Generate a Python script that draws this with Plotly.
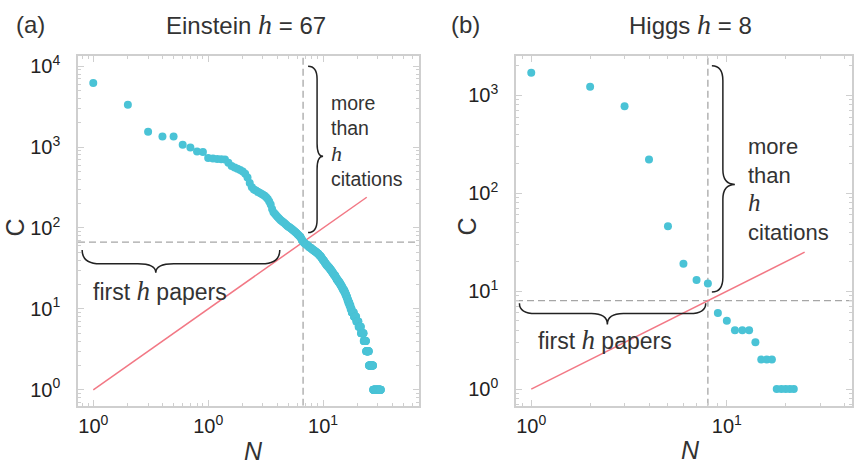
import math
import plotly.graph_objects as go

# ---------------- data ----------------
einstein_h = 67
higgs_h = 8

# Einstein: citations of papers ranked 1..131 (read individually)
einstein_head = [
    6200, 3350, 1550, 1350, 1350, 1070, 990, 880, 870, 735,
    725, 715, 710, 705, 640, 585, 560, 540, 520, 500,
    470, 420, 360, 320, 300, 290, 280, 272, 265, 257,
    250, 240, 228, 212, 195, 172, 157, 150, 144, 138,
    133, 128, 124, 121, 118, 115, 112, 109, 106, 104,
    102, 100, 98, 96, 94, 92, 90, 88, 86, 84,
    82, 80, 78, 76, 73, 70, 68, 66, 65, 64,
    63, 62, 61, 60, 59, 58, 57, 57, 56, 55,
    54, 54, 53, 52, 52, 51, 50, 50, 49, 48,
    48, 47, 46, 45, 45, 44, 43, 42, 41, 40,
    40, 39, 38, 37, 37, 36, 35, 35, 34, 34,
    33, 33, 32, 32, 31, 31, 30, 30, 29, 29,
    28, 28, 27, 27, 26, 26, 26, 25, 25, 24, 24,
]
# Einstein tail: citation level and number of papers at that level
einstein_tail_levels = [23, 22, 21, 20, 19, 18, 17, 16, 15, 14, 13, 12, 11, 10, 9, 8, 7, 6, 5, 4, 3, 2, 1]
einstein_tail_counts = [3, 3, 3, 3, 3, 3, 4, 3, 3, 3, 3, 4, 4, 4, 8, 9, 9, 10, 12, 11, 14, 22, 46]

higgs_citations = [1700, 1225, 774, 221, 46, 19, 13, 12, 6, 5, 4, 4, 4, 3, 2, 2, 2, 1, 1, 1, 1, 1]

einstein_line_end = 240
higgs_line_end = 25

e_xtick_vals = [1, 10, 100]
e_xtick_text = ["10<sup>0</sup>", "10<sup>0</sup>", "10<sup>1</sup>"]
e_ytick_vals = [1, 10, 100, 1000, 10000]
e_ytick_text = ["10<sup>0</sup>", "10<sup>1</sup>", "10<sup>2</sup>", "10<sup>3</sup>", "10<sup>4</sup>"]
h_xtick_vals = [1, 10]
h_xtick_text = ["10<sup>0</sup>", "10<sup>1</sup>"]
h_ytick_vals = [1, 10, 100, 1000]
h_ytick_text = ["10<sup>0</sup>", "10<sup>1</sup>", "10<sup>2</sup>", "10<sup>3</sup>"]

einstein_citations = list(einstein_head)
for lvl, cnt in zip(einstein_tail_levels, einstein_tail_counts):
    einstein_citations += [lvl] * cnt
einstein_rank = list(range(1, len(einstein_citations) + 1))
higgs_rank = list(range(1, len(higgs_citations) + 1))

# ---------------- layout geometry ----------------
W, H = 854, 464
E = dict(x0=78, x1=419, y0=52, y1=405, xr=[-0.133, 2.835], yr=[-0.196, 4.121])
G = dict(x0=516, x1=852, y0=52, y1=405, xr=[-0.078, 1.640], yr=[-0.169, 3.397])

def nx(p, n):
    return p["x0"] + (math.log10(n) - p["xr"][0]) / (p["xr"][1] - p["xr"][0]) * (p["x1"] - p["x0"])

def cy(p, c):
    return p["y1"] - (math.log10(c) - p["yr"][0]) / (p["yr"][1] - p["yr"][0]) * (p["y1"] - p["y0"])

def P(x, y):
    return f"{x / W:.5f},{1 - y / H:.5f}"

def hbrace(xl, xr, xt, y, dbar, dtip, r):
    yb, yt = y + dbar, y + dtip
    return (f"M {P(xl, y)} Q {P(xl, yb)} {P(xl + r, yb)} L {P(xt - r, yb)} "
            f"Q {P(xt, yb)} {P(xt, yt)} Q {P(xt, yb)} {P(xt + r, yb)} "
            f"L {P(xr - r, yb)} Q {P(xr, yb)} {P(xr, y)}")

def vbrace(x, ytop, ybot, ytip, dbar, dtip, r):
    xb, xt = x + dbar, x + dtip
    return (f"M {P(x, ytop)} Q {P(xb, ytop)} {P(xb, ytop + r)} L {P(xb, ytip - r)} "
            f"Q {P(xb, ytip)} {P(xt, ytip)} Q {P(xb, ytip)} {P(xb, ytip + r)} "
            f"L {P(xb, ybot - r)} Q {P(xb, ybot)} {P(x, ybot)}")

DOT = "#4ac3d6"
RED = "#f27885"
DASH = "#a6a6a6"
FRAME = "#cfcfcf"
TXT = "#333333"
FONT = "Liberation Sans"

def hs(size):
    return f"<span style='font-family:Liberation Serif;font-size:{size}px'><i>h</i></span>"

fig = go.Figure()

def add_panel(p, xa, ya, ranks, cits, h, line_end):
    xlo, xhi = 10 ** p["xr"][0], 10 ** p["xr"][1]
    ylo, yhi = 10 ** p["yr"][0], 10 ** p["yr"][1]
    fig.add_trace(go.Scatter(x=[xlo, xhi], y=[h, h], mode="lines", xaxis=xa, yaxis=ya,
                             line=dict(color=DASH, width=1.3, dash="7px,4px"), showlegend=False, hoverinfo="skip"))
    fig.add_trace(go.Scatter(x=[h, h], y=[ylo, yhi], mode="lines", xaxis=xa, yaxis=ya,
                             line=dict(color=DASH, width=1.3, dash="7px,4px"), showlegend=False, hoverinfo="skip"))
    fig.add_trace(go.Scatter(x=[1, line_end], y=[1, line_end], mode="lines", xaxis=xa, yaxis=ya,
                             line=dict(color=RED, width=1.5), showlegend=False))
    fig.add_trace(go.Scatter(x=ranks, y=cits, mode="markers", xaxis=xa, yaxis=ya,
                             marker=dict(color=DOT, size=8, line=dict(width=0)), showlegend=False))

add_panel(E, "x", "y", einstein_rank, einstein_citations, einstein_h, einstein_line_end)
add_panel(G, "x2", "y2", higgs_rank, higgs_citations, higgs_h, higgs_line_end)

minor_vals = [m * 10 ** e for e in range(-1, 5) for m in range(2, 10)]

def axis(p, horizontal, tv, tt, standoff):
    d = dict(
        type="log",
        range=p["xr"] if horizontal else p["yr"],
        domain=[p["x0"] / W, p["x1"] / W] if horizontal else [1 - p["y1"] / H, 1 - p["y0"] / H],
        showline=True, linecolor=FRAME, linewidth=1.5, mirror="allticks",
        ticks="inside", ticklen=6, tickwidth=1, tickcolor=FRAME,
        tickmode="array", tickvals=tv, ticktext=tt,
        tickfont=dict(family=FONT, size=20, color="#222222"),
        ticklabelstandoff=standoff,
        showgrid=False, zeroline=False,
        minor=dict(ticks="inside", ticklen=3, tickcolor=FRAME, tickvals=minor_vals, showgrid=False),
    )
    return d

xa1 = axis(E, True, e_xtick_vals, e_xtick_text, 2); xa1["anchor"] = "y"
ya1 = axis(E, False, e_ytick_vals, e_ytick_text, 12); ya1["anchor"] = "x"
xa2 = axis(G, True, h_xtick_vals, h_xtick_text, 2); xa2["anchor"] = "y2"
ya2 = axis(G, False, h_ytick_vals, h_ytick_text, 12); ya2["anchor"] = "x2"

shapes = []
BR = dict(type="path", xref="paper", yref="paper", line=dict(color="#222222", width=1.5))
yE = cy(E, einstein_h) + 8
shapes.append(dict(BR, path=hbrace(nx(E, 0.8), nx(E, 42), nx(E, 3.5), yE, 14, 23, 18)))
xE = nx(E, einstein_h) + 5
shapes.append(dict(BR, path=vbrace(xE, cy(E, 10000), cy(E, 88), cy(E, 770), 9, 15, 13)))
yG = cy(G, higgs_h) + 2.5
shapes.append(dict(BR, path=hbrace(nx(G, 0.87), nx(G, 7.8), nx(G, 2.45), yG, 10.5, 21.5, 16)))
xG = nx(G, higgs_h) + 4
shapes.append(dict(BR, path=vbrace(xG, cy(G, 2000), cy(G, 9.8), cy(G, 123), 11, 23, 15)))

def ann(text, x, y, size, xanchor="center", angle=0, align="center"):
    return dict(text=text, x=x / W, y=1 - y / H, xref="paper", yref="paper", showarrow=False,
                xanchor=xanchor, yanchor="middle", textangle=angle, align=align,
                font=dict(family=FONT, size=size, color=TXT))

annotations = [
    ann("(a)", 14, 20, 24, "left"),
    ann(f"Einstein {hs(28)} = {einstein_h}", 246, 20, 24),
    ann("(b)", 449, 20, 24, "left"),
    ann(f"Higgs {hs(28)} = {higgs_h}", 690, 20, 24),
    ann("C", 15, 225, 25, angle=-90),
    ann("C", 467, 224, 25, angle=-90),
    ann("<i>N</i>", 253, 451, 25),
    ann("<i>N</i>", 690, 450, 25),
    ann(f"more<br>than<br>{hs(22)}<br>citations", 329, 137, 19.5, "left", align="left"),
    ann(f"more<br>than<br>{hs(25)}<br>citations", 746, 187, 22, "left", align="left"),
    ann(f"first {hs(27)} papers", 91, 289, 23, "left"),
    ann(f"first {hs(27)} papers", 536, 339, 23, "left"),
]

fig.update_layout(
    width=W, height=H, margin=dict(l=0, r=0, t=0, b=0),
    paper_bgcolor="white", plot_bgcolor="white",
    xaxis=xa1, yaxis=ya1, xaxis2=xa2, yaxis2=ya2,
    shapes=shapes, annotations=annotations, showlegend=False,
)

fig.write_html("out.html")
